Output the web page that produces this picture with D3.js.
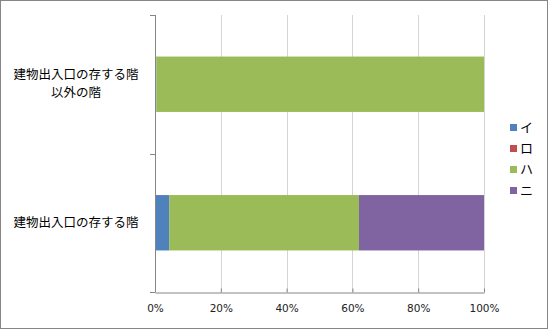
<!DOCTYPE html>
<html>
<head>
<meta charset="utf-8">
<script src="https://cdnjs.cloudflare.com/ajax/libs/d3/7.8.5/d3.min.js"></script>
<style>
    body { margin: 0; }
    svg { font-family: "Noto Sans CJK JP", sans-serif; }
</style>
</head>
<body>
<svg width="549" height="330"></svg>
<script>
    // categories top to bottom
    var categories = ["建物出入口の存する階以外の階", "建物出入口の存する階"];
    var catLines = [["建物出入口の存する階", "以外の階"], ["建物出入口の存する階"]];
    var seriesNames = ["イ", "ロ", "ハ", "ニ"];
    var colors = ["#4F81BD", "#C0504D", "#9BBB59", "#8064A2"];
    // percent values per category, in series order
    var valI = [0.4, 4.3];
    var valRo = [0, 0];
    var valHa = [99.6, 57.7];
    var valNi = [0, 38.0];
    var xTicks = [0, 20, 40, 60, 80, 100];

    var svg = d3.select("svg");
    var pLeft = 155, pRight = 484, pTop = 15, pBottom = 292;

    svg.append("rect").attr("x", 0.5).attr("y", 0.5).attr("width", 547).attr("height", 328)
        .attr("fill", "#fff").attr("stroke", "#868686");

    var x = d3.scaleLinear().domain([0, 100]).range([pLeft, pRight]);
    var y = d3.scaleBand().domain(categories).range([pTop, pBottom]).paddingInner(0.6).paddingOuter(0.3);

    // gridlines (faint)
    svg.append("g").selectAll("line").data(xTicks.slice(1)).enter().append("line")
        .attr("x1", d => Math.round(x(d)) + 0.5).attr("x2", d => Math.round(x(d)) + 0.5)
        .attr("y1", pTop).attr("y2", pBottom)
        .attr("stroke", "#d4d4d4");

    var rows = categories.map(function (c, i) {
        return { cat: c, vals: [valI[i], valRo[i], valHa[i], valNi[i]] };
    });
    var stack = [];
    rows.forEach(function (r) {
        var acc = 0;
        r.vals.forEach(function (v, j) {
            stack.push({ cat: r.cat, s: j, x0: acc, x1: acc + v });
            acc += v;
        });
    });

    svg.append("g").selectAll("rect").data(stack.filter(d => d.x1 > d.x0)).enter().append("rect")
        .attr("x", d => x(d.x0)).attr("width", d => x(d.x1) - x(d.x0))
        .attr("y", d => y(d.cat)).attr("height", y.bandwidth())
        .attr("fill", d => colors[d.s]);

    // x axis
    var xAxis = d3.axisBottom(x).tickValues(xTicks).tickFormat(d => d + "%").tickSize(4).tickSizeOuter(0);
    var gx = svg.append("g").attr("transform", "translate(0," + (pBottom + 0.5) + ")").call(xAxis);
    gx.select(".domain").attr("stroke", "#868686");
    gx.selectAll(".tick line").attr("stroke", "#868686").attr("y1", -4).attr("y2", 0);
    gx.selectAll(".tick text").attr("font-size", 10.5).attr("fill", "#222")
        .attr("font-family", "DejaVu Sans, sans-serif").attr("dy", "1.15em");

    // y axis line with ticks at band boundaries
    svg.append("line").attr("x1", pLeft + 0.5).attr("x2", pLeft + 0.5).attr("y1", pTop).attr("y2", pBottom)
        .attr("stroke", "#868686");
    var yb = [pTop, (pTop + pBottom) / 2, pBottom];
    svg.append("g").selectAll("line").data(yb).enter().append("line")
        .attr("x1", pLeft - 5).attr("x2", pLeft).attr("y1", d => Math.round(d) + 0.5).attr("y2", d => Math.round(d) + 0.5)
        .attr("stroke", "#868686");

    // category labels, one text per line
    categories.forEach(function (c, i) {
        var lines = catLines[i];
        var cy = y(c) + y.bandwidth() / 2;
        lines.forEach(function (ln, k) {
            svg.append("text").attr("text-anchor", "middle").attr("font-size", 12.5).attr("fill", "#000")
                .attr("x", 76).attr("y", cy + (k - (lines.length - 1) / 2) * 18 + 4).text(ln);
        });
    });

    // legend
    var lg = svg.append("g").selectAll("g").data(seriesNames).enter().append("g")
        .attr("transform", (d, i) => "translate(510," + (124 + i * 21) + ")");
    lg.append("rect").attr("width", 7).attr("height", 7).attr("fill", (d, i) => colors[i]);
    lg.append("text").attr("x", 10).attr("y", 8).attr("font-size", 13).text(d => d);
</script>
</body>
</html>
